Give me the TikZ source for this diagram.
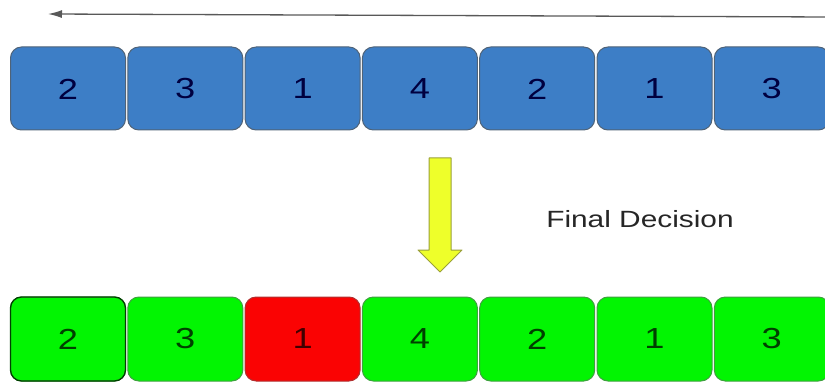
\documentclass[tikz,border=0pt]{standalone}
\usepackage{fontspec}
\usetikzlibrary{arrows.meta}
\setmainfont{Liberation Sans}
\begin{document}
\begin{tikzpicture}[x=1pt,y=-1pt,
  cell/.style={rounded corners=11pt, line width=1pt},
  blue cell/.style={cell, fill=cellblue, draw=blueedge},
  green cell/.style={cell, fill=cellgreen, draw=greenedge},
  red cell/.style={cell, fill=cellred, draw=rededge},
  digit/.style={font=\fontsize{29}{29}\selectfont, inner sep=0pt},
  caption/.style={font=\fontsize{23.5}{24}\selectfont, text=black!85, inner sep=0pt}]
\definecolor{cellblue}{HTML}{3D7EC6}
\definecolor{blueedge}{HTML}{4F6378}
\definecolor{cellgreen}{HTML}{02F502}
\definecolor{greenedge}{HTML}{3FA03F}
\definecolor{cellred}{HTML}{FA0303}
\definecolor{rededge}{HTML}{B03030}
\definecolor{arrowyellow}{HTML}{EEFF2A}
\definecolor{arrowedge}{HTML}{9AA03A}
\useasboundingbox (0,0) rectangle (825,385);
\clip (0,0) rectangle (825,385);

% upper row of values
\foreach \v [count=\i from 0] in {2,3,1,4,2,1,3} {
  \draw[blue cell] ({10.5+117.3*\i},47) rectangle ({125.5+117.3*\i},130);
  \node[digit, text=blue!25!black] (top\i) at ({68+117.3*\i},89) {\scalebox{1.25}[1]{\v}};
}

% lower row: each value judged, one rejected
\foreach \v/\s [count=\i from 0] in {2/green,3/green,1/red,4/green,2/green,1/green,3/green} {
  \draw[\s\space cell] ({10.5+117.3*\i},297) rectangle ({125.5+117.3*\i},381);
  \node[digit, text=black!75!\s] (bot\i) at ({68+117.3*\i},339) {\scalebox{1.25}[1]{\v}};
}
\draw[cell, draw=green!25!black, line width=1.3pt] (10.5,297) rectangle (125.5,381);

% scan direction
\coordinate (scanR) at (830,17);
\coordinate (scanL) at (48,14);
\draw[black!65, line width=1.3pt, -{Latex[length=14pt,width=8pt]}] (scanR) -- (scanL);

% downward block arrow
\draw[fill=arrowyellow, draw=arrowedge, line width=1pt, line join=round]
  (429,158) -- (451,158) -- (451,250) -- (462,250) -- (440,272)
  -- (418,250) -- (429,250) -- cycle;

\node[caption] (decision) at (640,219) {\scalebox{1.27}[1]{Final Decision}};
\end{tikzpicture}
\end{document}
